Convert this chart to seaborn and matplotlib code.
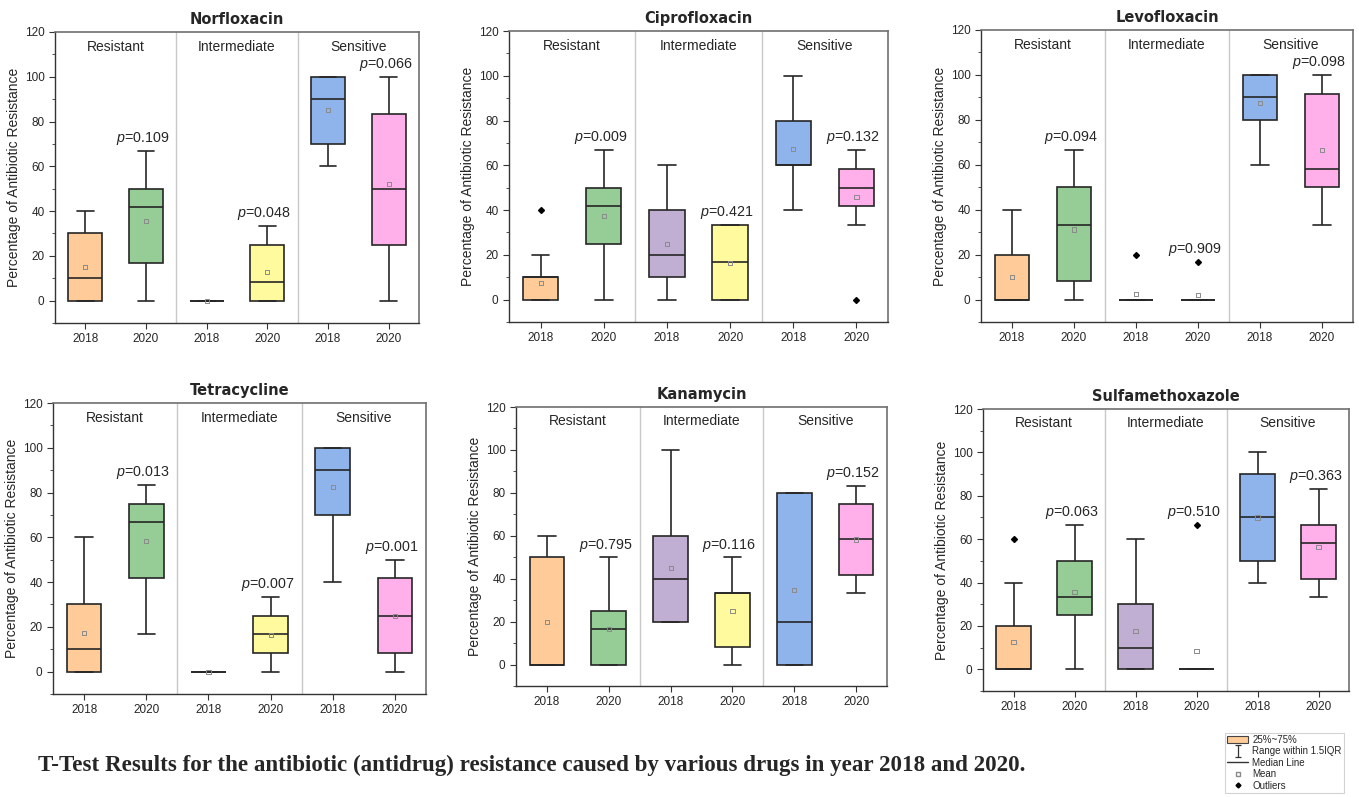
import numpy as np
import pandas as pd
import matplotlib
matplotlib.use('Agg')
import matplotlib.pyplot as plt
from matplotlib.ticker import MultipleLocator
from matplotlib.patches import Patch
from matplotlib.lines import Line2D
from matplotlib.path import Path
import seaborn as sns

#%% data (rows = drugs, cols = R2018, R2020, I2018, I2020, S2018, S2020)

drugs = ['Norfloxacin', 'Ciprofloxacin', 'Levofloxacin',
         'Tetracycline', 'Kanamycin', 'Sulfamethoxazole']
groups = ['Resistant', 'Intermediate', 'Sensitive']
years = ['2018', '2020', '2018', '2020', '2018', '2020']
box_ids = ['R2018', 'R2020', 'I2018', 'I2020', 'S2018', 'S2020']

whisk_lo = [[0, 0, 0, 0, 60, 0],
            [0, 0, 0, 0, 40, 33.3],
            [0, 0, 0, 0, 60, 33.3],
            [0, 16.7, 0, 0, 40, 0],
            [0, 0, 20, 0, 0, 33.3],
            [0, 0, 0, 0, 40, 33.3]]
q1 = [[0, 16.7, 0, 0, 70, 25],
      [0, 25, 10, 0, 60, 41.7],
      [0, 8.3, 0, 0, 80, 50],
      [0, 41.7, 0, 8.3, 70, 8.3],
      [0, 0, 20, 8.3, 0, 41.7],
      [0, 25, 0, 0, 50, 41.7]]
median = [[10, 41.7, 0, 8.3, 90, 50],
          [10, 41.7, 20, 16.7, 60, 50],
          [0, 33.3, 0, 0, 90, 58.3],
          [10, 66.7, 0, 16.7, 90, 25],
          [0, 16.7, 40, 33.3, 20, 58.3],
          [0, 33.3, 10, 0, 70, 58.3]]
q3 = [[30, 50, 0, 25, 100, 83.3],
      [10, 50, 40, 33.3, 80, 58.3],
      [20, 50, 0, 0, 100, 91.7],
      [30, 75, 0, 25, 100, 41.7],
      [50, 25, 60, 33.3, 80, 75],
      [20, 50, 30, 0, 90, 66.7]]
whisk_hi = [[40, 66.7, 0, 33.3, 100, 100],
            [20, 66.7, 60, 33.3, 100, 66.7],
            [40, 66.7, 0, 0, 100, 100],
            [60, 83.3, 0, 33.3, 100, 50],
            [60, 50, 100, 50, 80, 83.3],
            [40, 66.7, 60, 0, 100, 83.3]]
outlier = [[None, None, None, None, None, None],
           [40, None, None, None, None, 0],
           [None, None, 20, 16.7, None, None],
           [None, None, None, None, None, None],
           [None, None, None, None, None, None],
           [60, None, None, 66.7, None, None]]
means = [[15, 35.5, 0, 12.6, 85, 52.2],
         [7.4, 37.4, 24.9, 16.5, 67.4, 45.8],
         [9.9, 31.2, 2.4, 1.9, 87.5, 66.6],
         [17.4, 58.3, 0, 16.5, 82.4, 25],
         [19.9, 16.7, 44.9, 25, 34.9, 58.3],
         [12.4, 35.6, 17.5, 8.4, 70, 56.3]]
p_values = [['0.109', '0.048', '0.066'],
            ['0.009', '0.421', '0.132'],
            ['0.094', '0.909', '0.098'],
            ['0.013', '0.007', '0.001'],
            ['0.795', '0.116', '0.152'],
            ['0.063', '0.510', '0.363']]

box_colors = ['#FFCC99', '#96CC96', '#C0AED3', '#FFFA9E', '#8FB4EC', '#FFB0EA']

# axes boxes in pixels: left, right, top, bottom
ax_px = [(55, 419, 32, 323), (509, 888, 31, 322), (981, 1353, 30, 322),
         (53, 426, 403, 694), (516, 887, 407, 686), (983, 1349, 409, 691)]

#%%

sns.set_theme(style='ticks')
plt.rcParams['font.family'] = ['Liberation Sans', 'DejaVu Sans']
plt.rcParams['mathtext.fontset'] = 'custom'
plt.rcParams['mathtext.it'] = 'Liberation Sans:italic'
plt.rcParams['mathtext.rm'] = 'Liberation Sans'

W, H = 1359, 797
fig = plt.figure(figsize=(W / 100, H / 100), dpi=100)


def box_sample(lo, a, m, b, hi, out):
    # nine points whose quartiles / whiskers equal the values
    s = [lo, lo, a, a, m, b, b, hi, hi]
    if out is not None:
        if out > hi:
            s[-1] = out
        else:
            s[0] = out
    return s


for d, drug in enumerate(drugs):
    l, r, t, b = ax_px[d]
    ax = fig.add_axes([l / W, 1 - b / H, (r - l) / W, (b - t) / H])

    rows = []
    for k, bid in enumerate(box_ids):
        for v in box_sample(whisk_lo[d][k], q1[d][k], median[d][k], q3[d][k],
                            whisk_hi[d][k], outlier[d][k]):
            rows.append({'box': bid, 'value': v})
    df = pd.DataFrame(rows)

    sns.boxplot(data=df, x='box', y='value', hue='box', order=box_ids,
                hue_order=box_ids, palette=box_colors, saturation=1,
                legend=False, width=0.56, whis=1.5, linecolor='#262626',
                linewidth=1.2, fliersize=3,
                flierprops={'marker': 'D', 'markerfacecolor': 'black',
                            'markeredgecolor': 'black'},
                ax=ax)
    sns.scatterplot(x=box_ids, y=means[d], marker='s', s=9,
                    facecolor='none', edgecolor='#8a8a8a', linewidth=0.7,
                    legend=False, zorder=5, ax=ax)

    for xs in (1.5, 3.5):
        ax.axvline(xs, color='#c8c8c8', lw=1.0, zorder=0)

    for g, name in enumerate(groups):
        ax.text(2 * g + 0.5, 113.5, name, ha='center', va='center', fontsize=10)
        k = 2 * g + 1
        top = whisk_hi[d][k]
        if outlier[d][k] is not None:
            top = max(top, outlier[d][k])
        ax.text(k - 0.05, top + 5.5, r'$p$=' + p_values[d][g],
                ha='center', va='center', fontsize=10.3)

    ax.set_xlim(-0.5, 5.5)
    ax.set_ylim(-10, 120)
    ax.set_yticks(range(0, 121, 20))
    ax.yaxis.set_minor_locator(MultipleLocator(10))
    ax.set_xticks(range(6))
    ax.set_xticklabels(years)
    ax.tick_params(axis='both', which='major', direction='out', length=4,
                   width=0.8, labelsize=8.5, color='#333333')
    ax.tick_params(axis='y', which='minor', direction='out', length=2,
                   width=0.6, color='#333333', left=True)
    ax.set_xlabel('')
    ax.set_ylabel('Percentage of Antibiotic Resistance', fontsize=10, labelpad=3)
    for side in ('left', 'bottom'):
        ax.spines[side].set_color('#333333')
        ax.spines[side].set_linewidth(1.0)
    for side in ('top', 'right'):
        ax.spines[side].set_visible(True)
        ax.spines[side].set_color('#707070')
        ax.spines[side].set_linewidth(1.2)
    ax.set_title(drug, fontsize=10.5, fontweight='bold', family='DejaVu Sans', pad=6)

fig.text(38 / W, 1 - 765 / H,
         'T-Test Results for the antibiotic (antidrug) resistance caused by various drugs in year 2018 and 2020.',
         ha='left', va='center', fontsize=16.6, fontweight='bold',
         family='Liberation Serif')

ibeam = Path([(-0.6, 1), (0.6, 1), (0, 1), (0, -1), (-0.6, -1), (0.6, -1)],
             [Path.MOVETO, Path.LINETO, Path.MOVETO, Path.LINETO,
              Path.MOVETO, Path.LINETO])
handles = [
    Patch(facecolor=box_colors[0], edgecolor='#444444', linewidth=0.8),
    Line2D([], [], marker=ibeam, markerfacecolor='none', markeredgecolor='#333333',
           markeredgewidth=0.9, linestyle='none', markersize=8),
    Line2D([], [], color='#333333', linewidth=1.0),
    Line2D([], [], marker='s', markerfacecolor='none', markeredgecolor='#8a8a8a',
           linestyle='none', markersize=3),
    Line2D([], [], marker='D', color='black', linestyle='none', markersize=2.5),
]
labels = ['25%~75%', 'Range within 1.5IQR', 'Median Line', 'Mean', 'Outliers']
leg = fig.legend(handles, labels, loc='upper left',
                 bbox_to_anchor=(1225 / W, 1 - 733 / H), fontsize=7,
                 frameon=True, fancybox=False, edgecolor='#c8c8c8',
                 borderpad=0.2, labelspacing=0.15, handlelength=2.2,
                 handletextpad=0.4, borderaxespad=0)
leg.get_frame().set_linewidth(0.8)

fig.savefig('out.png', dpi=100, facecolor='white')
